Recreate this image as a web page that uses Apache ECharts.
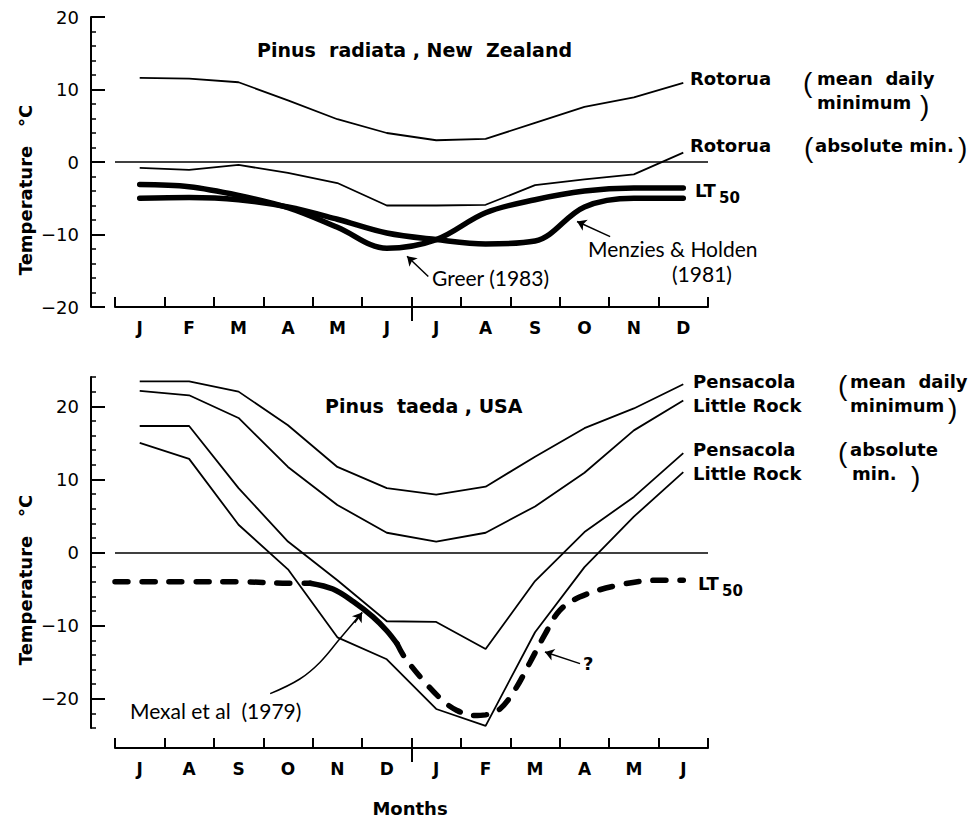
<!DOCTYPE html>
<html>
<head>
<meta charset="utf-8">
<script src="https://cdn.jsdelivr.net/npm/echarts@6/dist/echarts.min.js"></script>
<style>
html, body { margin: 0; background: #fff; }
#main { width: 971px; height: 818px; }
</style>
</head>
<body>
<div id="main"></div>
<script>
// month categories (NZ: Jan-Dec, USA: Jul-Jun)
var monthsNZ = ['J', 'F', 'M', 'A', 'M', 'J', 'J', 'A', 'S', 'O', 'N', 'D'];
var monthsUSA = ['J', 'A', 'S', 'O', 'N', 'D', 'J', 'F', 'M', 'A', 'M', 'J'];
var yTicksNZ = [-20, -10, 0, 10, 20];
var yTicksUSA = [-20, -10, 0, 10, 20];

// Pinus radiata, New Zealand (deg C)
var rotoruaMean = [11.6, 11.5, 11.0, 8.5, 5.9, 4.0, 3.0, 3.2, 5.4, 7.6, 8.9, 10.9];
var rotoruaAbs = [-0.8, -1.1, -0.4, -1.5, -2.9, -6.0, -6.0, -5.9, -3.2, -2.4, -1.7, 1.3];
var greer = [-3.1, -3.4, -4.6, -6.3, -9.0, -11.9, -10.7, -7.0, -5.2, -4.0, -3.6, -3.6];
var menzies = [-5.0, -4.9, -5.2, -6.2, -7.9, -9.8, -10.7, -11.3, -10.9, -6.2, -5.0, -5.0];

// Pinus taeda, USA (deg C)
var pensMean = [23.4, 23.4, 22.0, 17.4, 11.7, 8.8, 7.9, 9.0, 13.1, 17.0, 19.7, 23.0];
var lrMean = [22.1, 21.5, 18.4, 11.7, 6.5, 2.7, 1.5, 2.7, 6.3, 10.9, 16.7, 20.8];
var pensAbs = [17.3, 17.3, 8.8, 1.5, -3.8, -9.4, -9.5, -13.2, -3.9, 2.8, 7.6, 13.6];
var lrAbs = [15.0, 12.8, 3.8, -2.3, -11.6, -14.6, -21.4, -23.7, -10.9, -2.0, 4.9, 11.0];

// LT50 for P. taeda: [month position, deg C]; dashed / Mexal et al (solid) / dashed
var ltBefore = [[0, -4.0], [0.5, -4.0], [1.5, -4.0], [2.5, -4.0], [3.5, -4.2], [3.95, -4.2]];
var mexal = [[3.95, -4.2], [4.41, -5.0], [4.82, -6.7], [5.22, -8.8], [5.5, -10.7], [5.71, -12.5]];
var ltAfter = [[5.71, -12.5], [5.85, -14.2], [6.24, -17.5], [6.64, -20.3], [6.92, -21.6], [7.25, -22.3],
  [7.5, -22.2], [7.79, -21.4], [8.1, -18.7], [8.4, -15.0], [8.7, -11.2], [9.0, -7.9], [9.4, -6.1],
  [10.1, -4.6], [10.95, -3.8], [11.5, -3.8]];

// annotation arrows [from, to] in [month position, deg C]
var arrowGreer = [[6.34, -15.8], [5.91, -13.0]];
var arrowMenzies = [[10.02, -10.3], [9.35, -8.2]];
var arrowQuery = [[9.41, -15.2], [8.7, -13.6]];
var mexalPointer = [[3.14, -19.3], [3.74, -17.3], [4.15, -15.0], [4.55, -11.8], [5.0, -8.2]];
var mexalHead = [[4.85, -9.6], [5.0, -8.2]];

var FAM = '"DejaVu Sans", "Liberation Sans", sans-serif';
var BOLD = 'bold 18px ' + FAM;
var HAND = '21px Lato, "DejaVu Sans", sans-serif';

function minus(v) { return String(v).replace('-', '\u2212'); }

function catAxis(grid, data, offset) {
    return {
        gridIndex: grid, type: 'category', data: data, boundaryGap: true, position: 'bottom', offset: offset,
        axisLine: {show: true, onZero: false, lineStyle: {color: '#000', width: 2}},
        axisTick: {show: true, interval: 0, inside: true, length: 10, lineStyle: {color: '#000', width: 2}},
        axisLabel: {margin: 12, color: '#000', fontSize: 17, fontWeight: 'bold', fontFamily: 'DejaVu Sans'},
        splitLine: {show: false}
    };
}
function posAxis(grid, offset) {
    // hidden month-position axis, also draws the long Dec/Jan (Jun/Jul) tick
    return {
        gridIndex: grid, type: 'value', min: 0, max: 12, position: 'bottom', offset: offset,
        axisLine: {show: false, onZero: false},
        axisTick: {show: true, customValues: [6], length: 14, lineStyle: {color: '#000', width: 2}},
        axisLabel: {show: false}, splitLine: {show: false}
    };
}
function tempAxis(grid, lim, ticks) {
    return {
        gridIndex: grid, type: 'value', min: -lim, max: lim, interval: 2, position: 'left', offset: 24,
        axisLine: {show: true, onZero: false, lineStyle: {color: '#000', width: 2}},
        axisTick: {show: true, inside: true, length: 5, lineStyle: {color: '#000', width: 1.5}},
        axisLabel: {customValues: ticks, margin: 12, color: '#000', fontSize: 18, fontFamily: 'DejaVu Sans', formatter: minus},
        splitLine: {show: false}
    };
}
function majorAxis(grid, lim, ticks) {
    return {
        gridIndex: grid, type: 'value', min: -lim, max: lim, position: 'left', offset: 24,
        axisLine: {show: false, onZero: false},
        axisTick: {show: true, inside: true, length: 14, customValues: ticks, lineStyle: {color: '#000', width: 2}},
        axisLabel: {show: false}, splitLine: {show: false}
    };
}
function thin(data, x, y) {
    return {type: 'line', xAxisIndex: x, yAxisIndex: y, data: data, symbol: 'none',
        lineStyle: {color: '#000', width: 1.8}, silent: true};
}
function thick(data, x, y, dashed) {
    return {type: 'line', xAxisIndex: x, yAxisIndex: y, data: data, symbol: 'none', smooth: 0.35,
        lineStyle: {color: '#000', width: 5.5, type: dashed ? [13, 14] : 'solid', cap: 'round'},
        silent: true};
}
var zeroLine = {silent: true, symbol: 'none', label: {show: false},
    lineStyle: {type: 'solid', color: '#000', width: 1.5}, data: [{yAxis: 0}]};
function arrows(list) {
    return {silent: true, symbol: ['none', 'arrow'], symbolSize: 9, label: {show: false},
        lineStyle: {type: 'solid', color: '#000', width: 1.5},
        data: list.map(function (a) { return [{coord: a[0]}, {coord: a[1]}]; })};
}
function txt(text, x, y, font, align, rot) {
    return {type: 'text', x: x, y: y, rotation: rot || 0, silent: true,
        style: {text: text, font: font, fill: '#000', align: align || 'left', verticalAlign: 'middle'}};
}
function paren(ch, x, y) { return txt(ch, x, y, '28px "Liberation Sans", Arial, sans-serif'); }

var chart = echarts.init(document.getElementById('main'), null, {renderer: 'svg'});

var s1 = thin(rotoruaMean, 0, 0); s1.markLine = zeroLine;
var s2 = thin(pensMean, 2, 2); s2.markLine = zeroLine;
var helperTop = {type: 'line', xAxisIndex: 1, yAxisIndex: 0, data: [], symbol: 'none',
    markLine: arrows([arrowGreer, arrowMenzies])};
var pointer = thin(mexalPointer, 3, 2);
pointer.smooth = 0.4;
pointer.lineStyle.width = 1.5;
pointer.markLine = arrows([mexalHead, arrowQuery]);

var option = {
    animation: false,
    backgroundColor: '#fff',
    grid: [
        {left: 115, width: 593, top: 17, height: 290},
        {left: 115, width: 593, top: 377, height: 351}
    ],
    xAxis: [catAxis(0, monthsNZ, 0), posAxis(0, 0), catAxis(1, monthsUSA, 20), posAxis(1, 20)],
    yAxis: [tempAxis(0, 20, yTicksNZ), majorAxis(0, 20, yTicksNZ), tempAxis(1, 24, yTicksUSA), majorAxis(1, 24, yTicksUSA)],
    series: [
        s1,
        thin(rotoruaAbs, 0, 0),
        thick(greer, 0, 0, false),
        thick(menzies, 0, 0, false),
        helperTop,
        s2,
        thin(lrMean, 2, 2),
        thin(pensAbs, 2, 2),
        thin(lrAbs, 2, 2),
        thick(ltBefore, 3, 2, true),
        thick(mexal, 3, 2, false),
        thick(ltAfter, 3, 2, true),
        pointer
    ],
    graphic: [
        txt('Temperature   \u00b0C', 25, 190, BOLD, 'center', Math.PI / 2),
        txt('Temperature   \u00b0C', 25, 580, BOLD, 'center', Math.PI / 2),
        txt('Months', 410, 808, BOLD, 'center'),
        // top panel
        txt('Pinus  radiata , New  Zealand', 257, 50, 'bold 19px ' + FAM),
        txt('Rotorua', 690, 78, BOLD),
        paren('(', 803, 82), txt('mean  daily', 817, 78, BOLD),
        txt('minimum', 817, 102, BOLD), paren(')', 920, 105),
        txt('Rotorua', 690, 145, BOLD),
        paren('(', 804, 147), txt('absolute min.', 815, 145, BOLD), paren(')', 958, 147),
        txt('LT', 695, 190, BOLD), txt('50', 719, 198, 'bold 15px ' + FAM),
        txt('Menzies & Holden', 588, 248, HAND),
        txt('(1981)', 672, 273, HAND),
        txt('Greer (1983)', 432, 277, HAND),
        // bottom panel
        txt('Pinus  taeda , USA', 325, 406, 'bold 19px ' + FAM),
        txt('Pensacola', 693, 381, BOLD), txt('Little Rock', 693, 405, BOLD),
        paren('(', 838, 385), txt('mean  daily', 850, 381, BOLD),
        txt('minimum', 850, 405, BOLD), paren(')', 948, 408),
        txt('Pensacola', 693, 449, BOLD), txt('Little Rock', 693, 473, BOLD),
        paren('(', 838, 452), txt('absolute', 850, 449, BOLD),
        txt('min.', 852, 473, BOLD), paren(')', 911, 476),
        txt('LT', 698, 583, BOLD), txt('50', 722, 591, 'bold 15px ' + FAM),
        txt('?', 583, 663, BOLD),
        txt('Mexal et al  (1979)', 130, 710, HAND)
    ]
};
chart.setOption(option);
window.onresize = chart.resize;
</script>
</body>
</html>
